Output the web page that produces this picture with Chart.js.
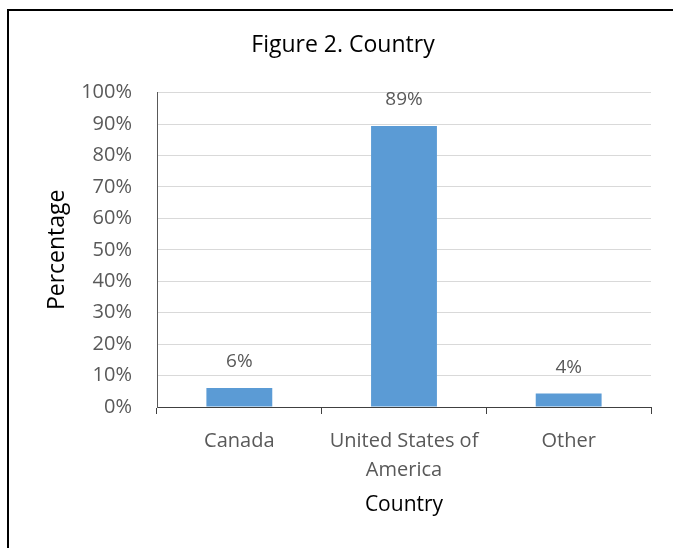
<!DOCTYPE html>
<html>
<head>
<meta charset="utf-8">
<script src="https://cdn.jsdelivr.net/npm/chart.js@4.4.1/dist/chart.umd.min.js"></script>
<style>
  html, body { margin: 0; padding: 0; background: #fff; overflow: hidden; }
  #wrap { position: relative; width: 673px; height: 548px; overflow: hidden; }
  #frame {
    position: absolute; left: 7px; top: 9px; width: 720px; height: 600px;
    border-left: 2px solid #000; border-top: 2px solid #000;
    pointer-events: none;
  }
  canvas { position: absolute; left: 0; top: 0; }
</style>
</head>
<body>
<div id="wrap">
  <div id="frame"></div>
  <canvas id="chart" width="673" height="548"></canvas>
</div>
<script>
// chart data
const categories = ['Canada', ['United States of', 'America'], 'Other'];
const percentValues = [6.05, 89.4, 4.3];
const valueLabels = ['6%', '89%', '4%'];
const yTickStep = 10;
const yMax = 100;

const FONT = "'Open Sans', 'Noto Sans', sans-serif";
const GRAY = '#595959';

// draws the "6%" style labels above each bar
const barLabels = {
  id: 'barLabels',
  afterDatasetsDraw(chart) {
    const ctx = chart.ctx;
    const meta = chart.getDatasetMeta(0);
    ctx.save();
    ctx.font = '19px ' + FONT;
    ctx.fillStyle = GRAY;
    ctx.textAlign = 'center';
    ctx.textBaseline = 'middle';
    meta.data.forEach((bar, i) => {
      ctx.fillText(valueLabels[i], bar.x, bar.y - 26);
    });
    ctx.restore();
  }
};

new Chart(document.getElementById('chart'), {
  type: 'bar',
  data: {
    labels: categories,
    datasets: [{
      data: percentValues,
      backgroundColor: '#5b9bd5',
      barPercentage: 0.4,
      categoryPercentage: 1.0
    }]
  },
  options: {
    responsive: false,
    animation: false,
    layout: { padding: { left: 35, right: 22, top: 0, bottom: 0 } },
    plugins: {
      legend: { display: false },
      tooltip: { enabled: false },
      title: {
        display: true,
        text: 'Figure 2. Country',
        color: '#000',
        font: { family: FONT, size: 23, weight: 'normal' },
        padding: { top: 32, bottom: 33 }
      }
    },
    scales: {
      x: {
        grid: {
          offset: true,
          drawOnChartArea: false,
          drawTicks: true,
          tickLength: 7,
          color: '#404040'
        },
        border: { display: true, color: '#404040', width: 1 },
        ticks: {
          color: GRAY,
          padding: 13,
          font: { family: FONT, size: 20, lineHeight: '29px' }
        },
        title: {
          display: true,
          text: 'Country',
          color: '#000',
          font: { family: FONT, size: 21 },
          padding: { top: 0, bottom: 30 }
        },
        afterFit(scale) { scale.height = 141; }
      },
      y: {
        min: 0,
        max: yMax,
        grid: { color: '#d9d9d9', drawTicks: false },
        border: { display: true, color: GRAY, width: 1 },
        ticks: {
          stepSize: yTickStep,
          color: GRAY,
          padding: 25,
          font: { family: FONT, size: 20 },
          callback: v => v + '%'
        },
        title: {
          display: true,
          text: 'Percentage',
          color: '#000',
          font: { family: FONT, size: 23 },
          padding: { top: 9, bottom: 0 }
        },
        afterFit(scale) { scale.width = 122; }
      }
    }
  },
  plugins: [barLabels]
});
</script>
</body>
</html>
